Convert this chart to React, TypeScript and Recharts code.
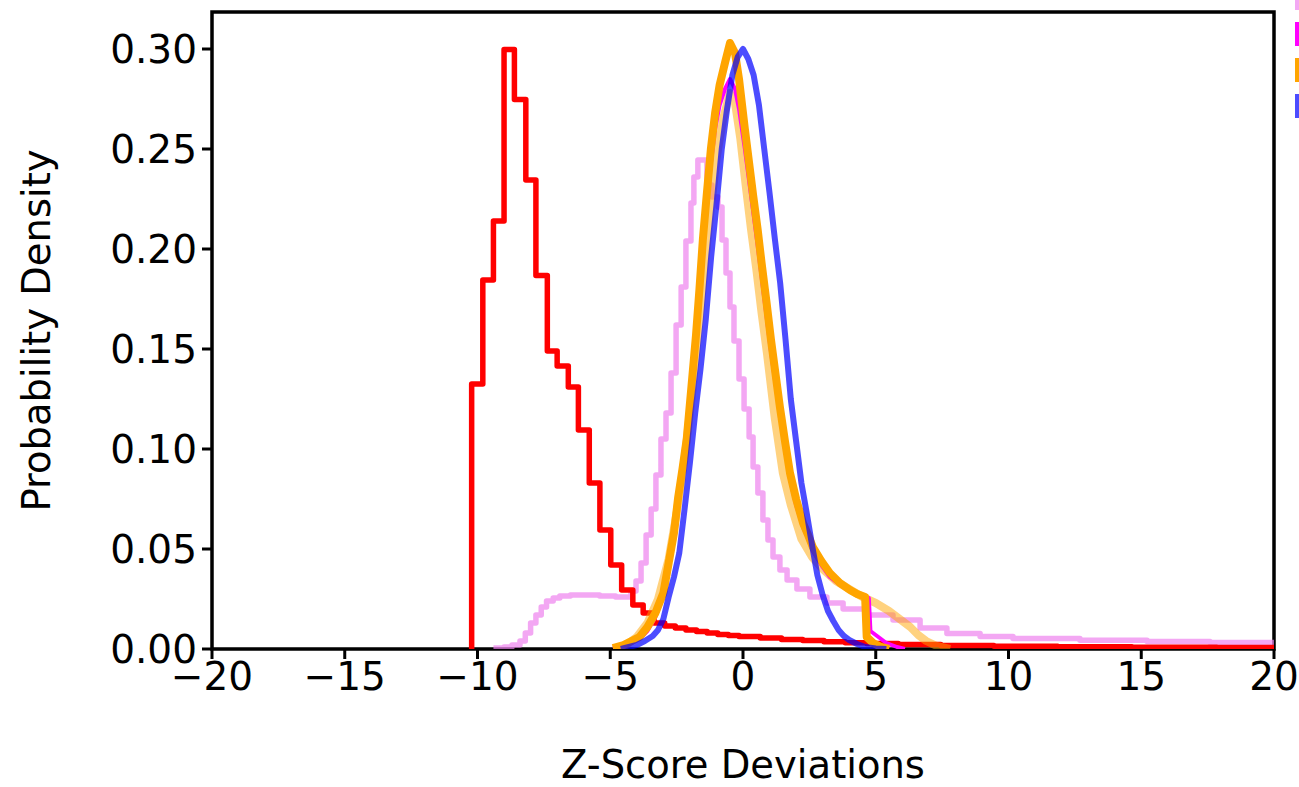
import { LineChart, Line, XAxis, YAxis, ReferenceArea } from 'recharts';

// bin edges (z-score) and densities, one pair per series
const redEdges = [-10.22, -10.22, -9.8, -9.4, -9.0, -8.61, -8.18, -7.8, -7.37, -7.0, -6.58, -6.2, -5.79, -5.39, -4.98, -4.57, -4.15, -3.76, -3.35, -2.95, -2.55, -2.15, -1.75, -1.35, -0.95, -0.55, -0.15, 0.65, 1.45, 2.25, 3.05, 3.85, 4.65, 5.85, 7.45, 9.45, 11.85, 14.65, 17.85, 20];
const redDensity = [0, 0.1325, 0.1845, 0.214, 0.2998, 0.2748, 0.2345, 0.1867, 0.149, 0.1415, 0.131, 0.1095, 0.083, 0.0595, 0.042, 0.0295, 0.022, 0.018, 0.013, 0.0115, 0.0105, 0.0095, 0.0088, 0.008, 0.0073, 0.0067, 0.0062, 0.0055, 0.0048, 0.0042, 0.0036, 0.0031, 0.0027, 0.0022, 0.0018, 0.0014, 0.0011, 0.0009, 0.0007, 0.0006];

const violetEdges = [-9.4, -9.0, -8.7, -8.4, -8.2, -8.0, -7.8, -7.6, -7.4, -7.15, -6.9, -6.5, -5.95, -5.4, -4.8, -4.4, -4.22, -4.03, -3.84, -3.65, -3.46, -3.28, -3.09, -2.9, -2.71, -2.52, -2.33, -2.15, -1.96, -1.85, -1.7, -1.36, -1.17, -0.94, -0.79, -0.64, -0.49, -0.34, -0.15, 0.04, 0.23, 0.38, 0.56, 0.75, 0.94, 1.13, 1.39, 1.66, 2.03, 2.52, 3.16, 3.77, 4.67, 5.65, 6.67, 7.68, 8.93, 10.17, 12.69, 15.22, 17.59, 20];
const violetDensity = [0.0005, 0.001, 0.002, 0.004, 0.008, 0.013, 0.017, 0.021, 0.024, 0.0255, 0.0265, 0.027, 0.027, 0.0265, 0.026, 0.026, 0.029, 0.034, 0.043, 0.057, 0.07, 0.087, 0.105, 0.118, 0.138, 0.162, 0.181, 0.204, 0.223, 0.236, 0.2445, 0.232, 0.226, 0.221, 0.2045, 0.188, 0.171, 0.154, 0.135, 0.12, 0.106, 0.091, 0.078, 0.0645, 0.0545, 0.046, 0.0395, 0.0345, 0.03, 0.026, 0.023, 0.02, 0.017, 0.0145, 0.0105, 0.0078, 0.0063, 0.0052, 0.0044, 0.0038, 0.0033, 0.003];

// the finely binned series are drawn through their bin values as smooth outlines
const lightOrangeEdges = [-4.8, -4.4, -4.0, -3.6, -3.2, -2.8, -2.5, -2.2, -1.9, -1.6, -1.3, -1.0, -0.75, -0.5, -0.3, -0.1, 0.1, 0.3, 0.5, 0.7, 0.9, 1.2, 1.5, 1.8, 2.2, 2.6, 3.0, 3.5, 4.0, 4.5, 5.0, 5.5, 5.9, 6.3, 6.6, 6.9, 7.3, 7.8];
const lightOrangeDensity = [0.0005, 0.002, 0.006, 0.013, 0.025, 0.045, 0.068, 0.095, 0.13, 0.17, 0.21, 0.245, 0.265, 0.278, 0.273, 0.255, 0.232, 0.21, 0.19, 0.168, 0.148, 0.115, 0.088, 0.072, 0.055, 0.046, 0.04, 0.034, 0.03, 0.026, 0.023, 0.019, 0.015, 0.011, 0.007, 0.004, 0.0015, 0];

const magentaEdges = [-4.9, -4.5, -4.2, -3.9, -3.6, -3.3, -3.0, -2.8, -2.6, -2.44, -2.28, -2.12, -1.95, -1.77, -1.64, -1.51, -1.36, -1.21, -1.05, -0.88, -0.68, -0.49, -0.3, -0.15, 0.07, 0.23, 0.39, 0.55, 0.7, 0.88, 1.05, 1.22, 1.39, 1.58, 1.77, 2.0, 2.26, 2.45, 2.63, 2.95, 3.27, 3.65, 4.03, 4.3, 4.74, 4.8, 5.0, 5.4, 5.8, 6.1];
const magentaDensity = [0.0005, 0.0015, 0.003, 0.005, 0.009, 0.016, 0.026, 0.04, 0.055, 0.072, 0.087, 0.102, 0.126, 0.152, 0.175, 0.198, 0.222, 0.243, 0.26, 0.272, 0.28, 0.285, 0.28, 0.27, 0.25, 0.234, 0.218, 0.202, 0.186, 0.167, 0.149, 0.133, 0.117, 0.1, 0.085, 0.072, 0.061, 0.055, 0.049, 0.042, 0.036, 0.032, 0.029, 0.027, 0.0255, 0.009, 0.007, 0.003, 0.001, 0];

const orangeEdges = [-4.9, -4.5, -4.2, -3.9, -3.6, -3.3, -3.0, -2.8, -2.6, -2.44, -2.28, -2.12, -1.95, -1.77, -1.64, -1.51, -1.36, -1.21, -1.05, -0.88, -0.68, -0.49, -0.3, -0.15, 0.07, 0.23, 0.39, 0.55, 0.7, 0.88, 1.05, 1.22, 1.39, 1.58, 1.77, 2.0, 2.26, 2.45, 2.63, 2.95, 3.27, 3.65, 4.03, 4.3, 4.6, 4.66, 4.9, 5.2, 5.5];
const orangeDensity = [0.0005, 0.002, 0.004, 0.006, 0.011, 0.018, 0.028, 0.043, 0.058, 0.076, 0.09, 0.105, 0.13, 0.157, 0.18, 0.205, 0.228, 0.25, 0.268, 0.282, 0.293, 0.303, 0.298, 0.285, 0.26, 0.243, 0.226, 0.21, 0.193, 0.174, 0.155, 0.138, 0.121, 0.104, 0.088, 0.075, 0.063, 0.057, 0.051, 0.044, 0.038, 0.033, 0.0295, 0.0275, 0.026, 0.006, 0.003, 0.001, 0];

const blueEdges = [-4.6, -4.3, -4.0, -3.7, -3.4, -3.2, -3.0, -2.8, -2.6, -2.4, -2.2, -2.0, -1.8, -1.6, -1.4, -1.2, -1.0, -0.8, -0.6, -0.4, -0.2, 0.0, 0.2, 0.4, 0.6, 0.8, 1.0, 1.2, 1.4, 1.6, 1.8, 2.0, 2.2, 2.4, 2.6, 2.8, 3.0, 3.2, 3.4, 3.6, 3.8, 4.0, 4.3, 4.6, 5.0, 5.4];
const blueDensity = [0, 0.001, 0.002, 0.004, 0.0065, 0.0095, 0.015, 0.026, 0.036, 0.048, 0.07, 0.093, 0.118, 0.14, 0.165, 0.196, 0.222, 0.25, 0.27, 0.287, 0.296, 0.3, 0.295, 0.287, 0.272, 0.25, 0.228, 0.205, 0.183, 0.155, 0.125, 0.104, 0.083, 0.068, 0.052, 0.037, 0.027, 0.019, 0.014, 0.0095, 0.0065, 0.0045, 0.0025, 0.001, 0.0003, 0];

const xTicks = [-20, -15, -10, -5, 0, 5, 10, 15, 20];
const yTicks = [0, 0.05, 0.1, 0.15, 0.2, 0.25, 0.3];

// legend handles (labels fall outside the figure)
const legendColors = ['#f3a8f3', '#ff00ff', '#ffa500', '#4c4cff'];

const toPoints = (xs: number[], ys: number[]) => xs.map((x, i) => ({ x, y: ys[i] }));

const series = [
  { name: 'violet', data: toPoints(violetEdges, violetDensity), color: '#ee82ee', opacity: 0.7, width: 5.5, curve: 'stepAfter' },
  { name: 'red', data: toPoints(redEdges, redDensity), color: '#ff0000', opacity: 1, width: 5.5, curve: 'stepAfter' },
  { name: 'orangeLight', data: toPoints(lightOrangeEdges, lightOrangeDensity), color: '#ffa500', opacity: 0.5, width: 8, curve: 'linear' },
  { name: 'magenta', data: toPoints(magentaEdges, magentaDensity), color: '#ff00ff', opacity: 1, width: 4, curve: 'linear' },
  { name: 'orange', data: toPoints(orangeEdges, orangeDensity), color: '#ffa500', opacity: 1, width: 8, curve: 'linear' },
  { name: 'blue', data: toPoints(blueEdges, blueDensity), color: '#0000ff', opacity: 0.7, width: 6, curve: 'linear' },
] as const;

const fmtX = (v: number) => (v < 0 ? `\u2212${-v}` : `${v}`);
const tickStyle = { fill: '#000', fontSize: 39, fontFamily: 'DejaVu Sans' };

export default function App() {
  return (
    <div style={{ position: 'absolute', left: 0, top: 0, width: 1299, height: 787, overflow: 'hidden', background: '#fff', fontFamily: 'DejaVu Sans' }}>
      <LineChart width={1299} height={787} margin={{ top: 12, right: 25, bottom: 0, left: 0 }}>
        <XAxis
          type="number"
          dataKey="x"
          domain={[-20, 20]}
          ticks={xTicks}
          allowDataOverflow
          height={138}
          axisLine={false}
          tickLine={{ stroke: '#000', strokeWidth: 3 }}
          tickSize={10}
          tickMargin={3}
          tickFormatter={fmtX}
          tick={tickStyle}
          label={{ value: 'Z-Score Deviations', position: 'insideBottom', offset: 9, fill: '#000', fontSize: 38.5, fontFamily: 'DejaVu Sans' }}
        />
        <YAxis
          type="number"
          domain={[0, 0.3185]}
          ticks={yTicks}
          allowDataOverflow
          width={212}
          axisLine={false}
          tickLine={{ stroke: '#000', strokeWidth: 3 }}
          tickSize={10}
          tickMargin={5}
          tickFormatter={(v: number) => v.toFixed(2)}
          tick={tickStyle}
          label={{ value: 'Probability Density', angle: -90, position: 'insideLeft', offset: 36, fill: '#000', fontSize: 38.5, fontFamily: 'DejaVu Sans', style: { textAnchor: 'middle' } }}
        />
        {series.map((s) => (
          <Line
            key={s.name}
            data={s.data}
            dataKey="y"
            type={s.curve}
            stroke={s.color}
            strokeOpacity={s.opacity}
            strokeWidth={s.width}
            strokeLinejoin="round"
            dot={false}
            activeDot={false}
            isAnimationActive={false}
          />
        ))}
        <ReferenceArea x1={-20} x2={20} y1={0} y2={0.3185} fill="none" stroke="#000" strokeWidth={3.5} ifOverflow="visible" />
      </LineChart>
      {legendColors.map((c, i) => (
        <div key={c} style={{ position: 'absolute', left: 1295, top: -14 + i * 36, width: 20, height: 24, background: c }} />
      ))}
    </div>
  );
}
